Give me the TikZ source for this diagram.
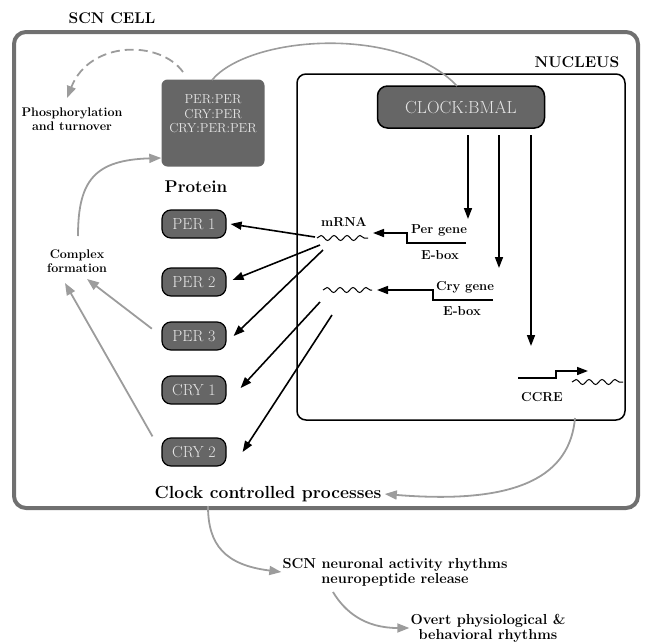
\documentclass[tikz,border=0pt]{standalone}
\usepackage{fontspec}
\usepackage{tikz}
\usetikzlibrary{arrows.meta, decorations.pathmorphing, positioning}

\definecolor{boxgray}{HTML}{666666}
\definecolor{cellgray}{HTML}{707070}
\definecolor{arrowgray}{HTML}{9C9C9C}
\definecolor{boxtext}{HTML}{E6E6E6}

\begin{document}
\begin{tikzpicture}[x=1pt, y=-1pt,
    protbox/.style={draw=black, line width=1.2pt, fill=boxgray, rounded corners=9pt,
        minimum width=64pt, minimum height=28pt, inner sep=0pt, text=boxtext,
        font=\fontsize{16}{18}\selectfont},
    blackarrow/.style={-{Triangle[length=11pt, width=8pt]}, line width=1.6pt},
    grayarrow/.style={-{Triangle[length=12pt, width=9pt]}, arrowgray, line width=1.8pt},
    wave/.style={decorate, decoration={snake, amplitude=2.5pt, segment length=13pt}, line width=1pt},
    lbl/.style={font=\bfseries\fontsize{13}{14}\selectfont, align=center, inner sep=1pt},
    title/.style={font=\bfseries\fontsize{15.5}{17}\selectfont, inner sep=1pt},
]
    \useasboundingbox (0,0) rectangle (651,643);

    % Cell and nucleus
    \draw[cellgray, line width=4pt, rounded corners=12pt] (14,32) rectangle (638,508);
    \draw[line width=1.5pt, rounded corners=9pt] (297,74) rectangle (625,420);
    \node[title] (cell) at (112,18) {SCN CELL};
    \node[title] (nucleus) at (577,62) {NUCLEUS};

    % Complexes
    \node[fill=boxgray, rounded corners=6pt, minimum width=103pt, minimum height=87pt] (complex) at (213,123) {};
    \node[text=boxtext, align=center, font=\fontsize{13}{14.5}\selectfont] (complexlbl) at (213,114)
        {PER:PER\\CRY:PER\\CRY:PER:PER};
    \node[draw=black, line width=1.5pt, fill=boxgray, rounded corners=10pt, minimum width=167pt,
        minimum height=42pt, text=boxtext, font=\fontsize{17.5}{19}\selectfont] (clock) at (461,107) {CLOCK:BMAL};

    % Proteins
    \node[font=\bfseries\fontsize{17}{19}\selectfont] (protein) at (196,187) {Protein};
    \foreach \i/\t/\y in {1/PER 1/224, 2/PER 2/282, 3/PER 3/336, 4/CRY 1/390, 5/CRY 2/452}
        \node[protbox] (prot\i) at (194,\y) {\t};

    % Genes and mRNA
    \node[lbl] (mrna) at (344,222) {mRNA};
    \coordinate (w1a) at (317,238);
    \coordinate (w1b) at (368,238);
    \coordinate (w2a) at (323,290);
    \coordinate (w2b) at (372,290);
    \draw[wave] (w1a) -- (w1b);
    \draw[wave] (w2a) -- (w2b);

    \coordinate (pergene) at (466,243);
    \coordinate (crygene) at (493,300);
    \draw[blackarrow] (pergene) -- (407,243) -- (407,233) -- (373,233);
    \draw[blackarrow] (crygene) -- (433,300) -- (433,290) -- (377,290);
    \node[lbl] (perlbl) at (439,230) {Per gene};
    \node[lbl] (ebox1) at (440,255) {E-box};
    \node[lbl] (crylbl) at (465,287) {Cry gene};
    \node[lbl] (ebox2) at (462,311) {E-box};

    % CCRE
    \draw[blackarrow] (518,378) -- (556,378) -- (556,371) -- (588,371);
    \draw[wave] (572,382) -- (623,382);
    \node[lbl] (ccre) at (542,397) {CCRE};

    % CLOCK:BMAL drives the genes
    \coordinate (perhit) at (468,219);
    \coordinate (cryhit) at (499,268);
    \coordinate (ccrehit) at (531,346);
    \draw[blackarrow] (468,135) -- (perhit);
    \draw[blackarrow] (499,135) -- (cryhit);
    \draw[blackarrow] (531,135) -- (ccrehit);

    % Translation
    \coordinate (m1a) at (315,237);
    \coordinate (m1b) at (320,245);
    \coordinate (m1c) at (323,250);
    \coordinate (m2a) at (320,302);
    \coordinate (m2b) at (332,315);
    \draw[blackarrow] (m1a) -- ([xshift=4pt]prot1.east);
    \draw[blackarrow] (m1b) -- ([xshift=6pt, yshift=2pt]prot2.east);
    \draw[blackarrow] (m1c) -- ([xshift=7pt]prot3.east);
    \draw[blackarrow] (m2a) -- ([xshift=14pt, yshift=2pt]prot4.east);
    \draw[blackarrow] (m2b) -- ([xshift=16pt]prot5.east);

    % Complex formation and feedback
    \node[lbl, font=\bfseries\fontsize{12.5}{13.5}\selectfont] (cform) at (77,261) {Complex\\formation};
    \node[lbl, font=\bfseries\fontsize{12.5}{13.5}\selectfont] (phos) at (72,119) {Phosphorylation\\and turnover};
    \coordinate (cf1) at (87,279);
    \coordinate (cf2) at (65,283);
    \draw[grayarrow, shorten <=12pt] (prot3.west) -- (cf1);
    \draw[grayarrow, shorten <=18pt] (prot5.west) -- (cf2);
    \draw[grayarrow] (78,236) .. controls (78,180) and (95,160) .. (complex.west |- 0,158);
    \draw[grayarrow, dashed, dash pattern=on 9pt off 5pt] (183,72) .. controls (160,40) and (90,40) .. (67,98);
    \draw[arrowgray, line width=1.6pt] (212,80) .. controls (250,35) and (400,25) .. (457,86);

    % Outputs
    \node[font=\bfseries\fontsize{17.5}{19}\selectfont] (ccp) at (268,494) {Clock controlled processes};
    \node[lbl, font=\bfseries\fontsize{14.5}{15}\selectfont] (scn) at (395,572) {SCN neuronal activity rhythms\\neuropeptide release};
    \node[lbl, font=\bfseries\fontsize{14.5}{15}\selectfont] (overt) at (488,628) {Overt physiological \&\\behavioral rhythms};
    \draw[grayarrow] (575,418) .. controls (570,475) and (520,505) .. (ccp.east);
    \draw[grayarrow] (208,506) .. controls (208,545) and (225,565) .. (scn.west);
    \draw[grayarrow] (333,592) .. controls (345,612) and (365,628) .. (overt.west);
\end{tikzpicture}
\end{document}
